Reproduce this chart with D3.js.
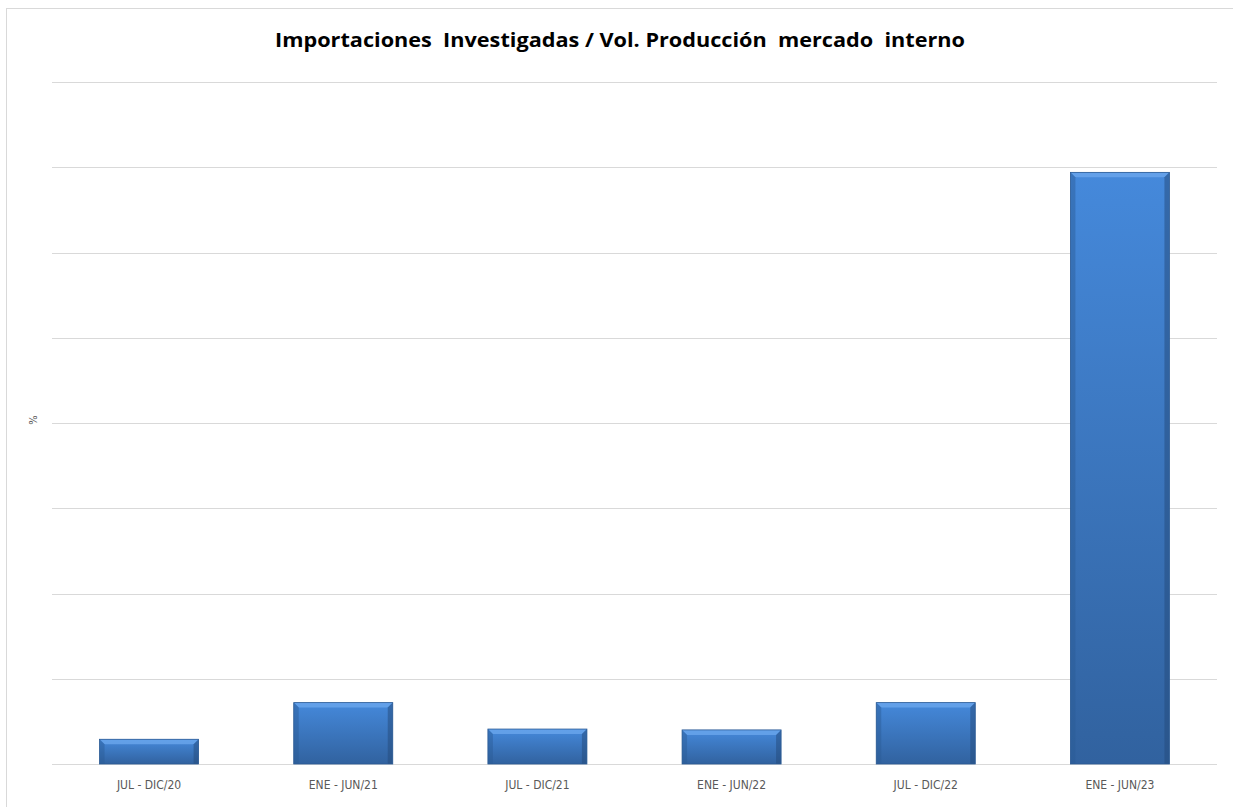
<!DOCTYPE html>
<html>
<head>
<meta charset="utf-8">
<script src="https://cdn.jsdelivr.net/npm/d3@7"></script>
<style>
	body { margin: 0; background: #fff; }
	svg { display: block; }
</style>
</head>
<body>
<svg id="chart" width="1233" height="807"></svg>
<script>
// periods and ratio values (percent)
const periods = ['JUL - DIC/20', 'ENE - JUN/21', 'JUL - DIC/21', 'ENE - JUN/22', 'JUL - DIC/22', 'ENE - JUN/23']
const ratios = [2.9, 7.2, 4.1, 4.0, 7.2, 69.4]
const gridTicks = [0, 10, 20, 30, 40, 50, 60, 70, 80]

const title = 'Importaciones  Investigadas / Vol. Producción  mercado  interno'
const yLabel = '%'

const svg = d3.select('#chart')
const margin = { top: 82, right: 16, bottom: 43, left: 52 }
const W = 1233, H = 807
const innerW = W - margin.left - margin.right
const innerH = H - margin.top - margin.bottom

// chart frame, runs off the right and bottom edge
svg.append('rect')
	.attr('x', 6.5).attr('y', 8.5)
	.attr('width', W).attr('height', H)
	.attr('fill', '#fff')
	.attr('stroke', '#d9d9d9')

const defs = svg.append('defs')
const grad = defs.append('linearGradient')
	.attr('id', 'barFill')
	.attr('x1', 0).attr('y1', 0).attr('x2', 0).attr('y2', 1)
grad.append('stop').attr('offset', '0%').attr('stop-color', '#4589db')
grad.append('stop').attr('offset', '100%').attr('stop-color', '#31629f')

const x = d3.scaleBand()
	.domain(periods)
	.range([0, innerW])
	.paddingInner(0.49)
	.paddingOuter(0.245)

const y = d3.scaleLinear()
	.domain([0, 80])
	.range([innerH, 0])

const g = svg.append('g').attr('transform', `translate(${margin.left},${margin.top})`)

// gridlines
g.append('g')
	.selectAll('line')
	.data(gridTicks)
	.enter()
	.append('line')
	.attr('x1', 0)
	.attr('x2', innerW)
	.attr('y1', d => Math.round(y(d)) + 0.5)
	.attr('y2', d => Math.round(y(d)) + 0.5)
	.attr('stroke', '#d9d9d9')
	.attr('stroke-width', 1)

// bars with a bevel look
const bars = g.append('g')
	.selectAll('g')
	.data(periods.map((p, i) => ({ p, v: ratios[i] })))
	.enter()
	.append('g')
	.attr('transform', d => `translate(${x(d.p)},${y(d.v)})`)

const bw = x.bandwidth()
const bevel = 5
bars.append('rect')
	.attr('width', bw)
	.attr('height', d => innerH - y(d.v))
	.attr('fill', 'url(#barFill)')
// top bevel
bars.append('path')
	.attr('d', `M0,0 L${bw},0 L${bw - bevel},${bevel} L${bevel},${bevel} Z`)
	.attr('fill', '#6aa6ec')
	.attr('opacity', 0.8)
// left edge
bars.append('path')
	.attr('d', d => {
		const h = innerH - y(d.v)
		return `M0,0 L${bevel},${bevel} L${bevel},${h} L0,${h} Z`
	})
	.attr('fill', '#2b5a94')
	.attr('opacity', 0.45)
// right edge
bars.append('path')
	.attr('d', d => {
		const h = innerH - y(d.v)
		return `M${bw},0 L${bw - bevel},${bevel} L${bw - bevel},${h} L${bw},${h} Z`
	})
	.attr('fill', '#23497a')
	.attr('opacity', 0.5)
bars.append('rect')
	.attr('width', bw)
	.attr('height', d => innerH - y(d.v))
	.attr('fill', 'none')
	.attr('stroke', '#2c5b94')
	.attr('stroke-width', 0.8)

// category labels
g.append('g')
	.selectAll('text')
	.data(periods)
	.enter()
	.append('text')
	.attr('x', d => x(d) + bw / 2)
	.attr('y', innerH + 25)
	.attr('text-anchor', 'middle')
	.attr('font-family', '"DejaVu Sans Condensed", "Liberation Sans Narrow", sans-serif')
	.attr('font-size', 12)
	.attr('fill', '#595959')
	.text(d => d)

// y axis title
svg.append('text')
	.attr('transform', 'translate(37,420) rotate(-90)')
	.attr('text-anchor', 'middle')
	.attr('font-family', '"DejaVu Sans Condensed", sans-serif')
	.attr('font-size', 11)
	.attr('fill', '#595959')
	.text(yLabel)

// chart title
svg.append('text')
	.attr('x', 620)
	.attr('y', 47)
	.attr('text-anchor', 'middle')
	.attr('font-family', '"Open Sans", sans-serif')
	.attr('font-weight', 'bold')
	.attr('font-size', 20)
	.attr('textLength', 690)
	.attr('lengthAdjust', 'spacingAndGlyphs')
	.attr('xml:space', 'preserve')
	.style('white-space', 'pre')
	.attr('fill', '#000')
	.text(title)
</script>
</body>
</html>
